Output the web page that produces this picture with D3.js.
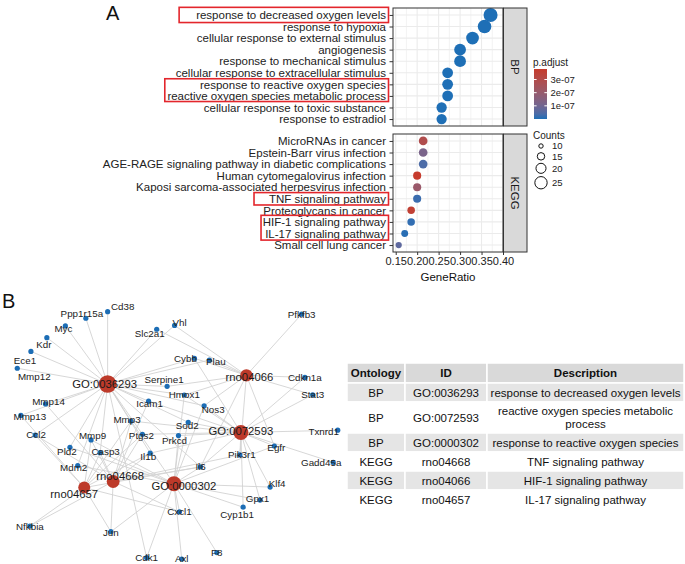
<!DOCTYPE html>
<html>
<head>
<meta charset="utf-8">
<script src="https://cdn.jsdelivr.net/npm/d3@7"></script>
<style>
  body { margin: 0; background: #fff; }
  text { font-family: "Liberation Sans", Arial, Helvetica, sans-serif; }
</style>
</head>
<body>
<svg id="fig" width="685" height="564"></svg>
<script>

// ---- data: panel A (enrichment dot plot) ----
var bpTerms = ["response to decreased oxygen levels", "response to hypoxia",
  "cellular response to external stimulus", "angiogenesis", "response to mechanical stimulus",
  "cellular response to extracellular stimulus", "response to reactive oxygen species",
  "reactive oxygen species metabolic process", "cellular response to toxic substance",
  "response to estradiol"];
var bpRatio = [0.371, 0.357, 0.329, 0.300, 0.300, 0.271, 0.271, 0.271, 0.257, 0.257];
var bpCount = [26, 25, 23, 21, 21, 19, 19, 19, 18, 18];
var bpPadj = [2.1e-13, 3.4e-13, 2.2e-12, 6.0e-11, 6.0e-11, 1.9e-10, 1.9e-10, 1.9e-10, 6.5e-10, 6.5e-10];

var keggTerms = ["MicroRNAs in cancer", "Epstein-Barr virus infection",
  "AGE-RAGE signaling pathway in diabetic complications", "Human cytomegalovirus infection",
  "Kaposi sarcoma-associated herpesvirus infection", "TNF signaling pathway",
  "Proteoglycans in cancer", "HIF-1 signaling pathway", "IL-17 signaling pathway",
  "Small cell lung cancer"];
var keggRatio = [0.214, 0.214, 0.214, 0.200, 0.200, 0.200, 0.186, 0.186, 0.171, 0.157];
var keggCount = [15, 15, 15, 14, 14, 14, 13, 13, 12, 11];
var keggPadj = [2.9e-07, 1.2e-07, 4.0e-08, 3.8e-07, 2.1e-07, 2.0e-08, 3.6e-07, 1.2e-08, 6.0e-09, 6.5e-08];

var ratioTicks = [0.15, 0.20, 0.25, 0.30, 0.35, 0.40];
var padjBreaks = [1e-07, 2e-07, 3e-07];
var countBreaks = [10, 15, 20, 25];

// terms framed in red
var boxedTerms = [["response to decreased oxygen levels"],
  ["response to reactive oxygen species", "reactive oxygen species metabolic process"],
  ["TNF signaling pathway"],
  ["HIF-1 signaling pathway", "IL-17 signaling pathway"]];

// ---- data: panel B (gene-term network) ----
var hubIds = ["GO:0036293", "rno04066", "GO:0072593", "rno04668", "rno04657", "GO:0000302"];
var hubMembers = [
  ["Ppp1r15a", "Cd38", "Myc", "Kdr", "Ece1", "Mmp12", "Mmp13", "Mmp14", "Slc2a1", "Vhl", "Cybb", "Plau",
   "Serpine1", "Hmox1", "Icam1", "Nos3", "Mmp3", "Ccl2", "Ptgs2", "Pld2", "Casp3", "Mdm2", "Il1b", "Sod2", "Il6", "Cdk1"],
  ["Vhl", "Slc2a1", "Pfkfb3", "Cybb", "Hmox1", "Serpine1", "Cdkn1a", "Stat3", "Nos3", "Egfr", "Il6", "Pik3r1", "Plau"],
  ["Cybb", "Hmox1", "Nos3", "Sod2", "Txnrd1", "Ptgs2", "Prkcd", "Egfr", "Pik3r1", "Gadd45a", "Il6", "Klf4",
   "Gpx1", "Cyp1b1", "Il1b", "Stat3", "Cdkn1a", "Icam1", "Mmp3"],
  ["Mmp3", "Mmp9", "Mmp14", "Ccl2", "Ptgs2", "Casp3", "Il1b", "Icam1", "Il6", "Jun", "Cxcl1", "Nfkbia", "Pik3r1"],
  ["Mmp3", "Mmp9", "Mmp13", "Ccl2", "Ptgs2", "Casp3", "Il1b", "Il6", "Jun", "Cxcl1", "Nfkbia"],
  ["Hmox1", "Nos3", "Sod2", "Mmp3", "Mmp9", "Casp3", "Pld2", "Mdm2", "Prkcd", "Egfr", "Il6", "Klf4",
   "Gpx1", "Cyp1b1", "Cxcl1", "Jun", "Cdk1", "Axl", "F8"]];

var geneNames = ["Ppp1r15a", "Cd38", "Myc", "Kdr", "Ece1", "Mmp12", "Slc2a1", "Vhl", "Pfkfb3", "Cybb",
  "Plau", "Serpine1", "Hmox1", "Cdkn1a", "Stat3", "Mmp14", "Icam1", "Nos3", "Mmp13", "Mmp3", "Sod2",
  "Txnrd1", "Ccl2", "Mmp9", "Ptgs2", "Prkcd", "Pld2", "Casp3", "Il1b", "Egfr", "Mdm2", "Pik3r1",
  "Gadd45a", "Il6", "Klf4", "Gpx1", "Nfkbia", "Cxcl1", "Cyp1b1", "Jun", "Cdk1", "Axl", "F8"];

// ---- table ----
var tableHead = ["Ontology", "ID", "Description"];
var tableOntology = ["BP", "BP", "BP", "KEGG", "KEGG", "KEGG"];
var tableId = ["GO:0036293", "GO:0072593", "GO:0000302", "rno04668", "rno04066", "rno04657"];
var tableDesc = ["response to decreased oxygen levels", "reactive oxygen species metabolic\nprocess",
  "response to reactive oxygen species", "TNF signaling pathway", "HIF-1 signaling pathway",
  "IL-17 signaling pathway"];

// ---- network layout (layout units 0-100, as from the layout step) ----
var hubLayoutX = [28.5, 71.2, 69.5, 30.2, 21.3, 48.9];
var hubLayoutY = [31.0, 27.6, 50.0, 69.2, 71.6, 70.1];
var geneLayoutX = [21.8, 28.5, 15.5, 9.8, 4.9, 0.7, 43.6, 49.1, 88.2, 55.2,
  59.8, 46.8, 52.1, 89.2, 91.6, 9.4, 41.1, 58.2, 1.8, 35.7, 53.3,
  99.3, 6.2, 23.4, 39.2, 50.3, 16.9, 26.2, 41.6, 79.8, 19.3, 69.2,
  97.9, 57.1, 78.5, 75.4, 4.6, 50.6, 70.2, 29.5, 40.5, 51.3, 62.1];
var geneLayoutY = [5.2, 2.6, 8.2, 12.8, 18.2, 24.8, 9.5, 8.0, 3.6, 20.9,
  21.6, 31.9, 35.3, 28.4, 35.2, 38.8, 37.7, 39.5, 43.3, 45.5, 46.0,
  49.1, 51.0, 52.9, 50.7, 51.2, 55.8, 57.9, 58.1, 55.3, 63.0, 58.8,
  61.7, 63.5, 71.4, 76.5, 86.7, 81.1, 79.3, 88.9, 99.1, 99.6, 97.1];
// label nudges in px (repel result)
var geneLabelDx = [-4, 15, -2, -3, -6, 17, -7, 5, 0, -9, 6.5, -3, 0, 0, 0, 3, 1, 9, 9, -4, -1,
  -14, 1, 1.5, -1, -4, -3, 5.5, -2, 2, -4, 2, -12, 0, 7, -2.5, 0, 0, -6, 0, 0, 0, 0];
var geneLabelDy = [-5, -5, 3, 7, 9, 8, 4, -3, 0, 0, 1, -7, 0, 0, 0, -2, 2, 4, 1, -1, 3,
  1, 0, -4, 1, 5.5, 4, -1, 3.5, 2, 2, 0, 0, 0, -4, -2, 0, 0, 7, 0.5, 0, 0, 0];
var hubLabelDx = [-3, 3, 0, 7, -10, 10];
var hubLabelDy = [0, 2, -1, -5, 6, 2];

// ---------------------------------------------------------------
var svg = d3.select('#fig');
var ink = '#222';

// panel letters
svg.append('text').attr('x', 106).attr('y', 20).attr('font-size', 20).attr('fill', '#111').text('A');
svg.append('text').attr('x', 2).attr('y', 308).attr('font-size', 20).attr('fill', '#111').text('B');

// ---- panel A ----
var x = d3.scaleLinear().domain([0.1437, 0.40]).range([393, 503]);
var size = d3.scaleSqrt().domain([10, 26]).range([2.8, 7]);
var allPadj = bpPadj.concat(keggPadj);
var color = d3.scaleLinear()
  .domain([d3.min(allPadj), d3.max(allPadj)])
  .range(['#1e6fb6', '#c63b2d'])
  .interpolate(d3.interpolateLab);

var facets = [
  {name: 'BP', terms: bpTerms, ratio: bpRatio, count: bpCount, padj: bpPadj, top: 8, bottom: 126},
  {name: 'KEGG', terms: keggTerms, ratio: keggRatio, count: keggCount, padj: keggPadj, top: 134, bottom: 252}
];
var minorTicks = d3.pairs(ratioTicks).map(function(p) { return (p[0] + p[1]) / 2; });
var yScales = {};

facets.forEach(function(f, fi) {
  var y = d3.scalePoint().domain(f.terms).range([f.top, f.bottom]).padding(0.6);
  yScales[f.name] = y;
  var g = svg.append('g');
  var x0 = x.range()[0], x1 = x.range()[1];

  g.append('rect').attr('x', x0).attr('y', f.top).attr('width', x1 - x0)
    .attr('height', f.bottom - f.top).attr('fill', '#fff');

  // grid
  g.selectAll('.minor').data(minorTicks).enter().append('line')
    .attr('x1', x).attr('x2', x).attr('y1', f.top).attr('y2', f.bottom)
    .attr('stroke', '#f0f0f0').attr('stroke-width', 0.8);
  g.selectAll('.major').data(ratioTicks).enter().append('line')
    .attr('x1', x).attr('x2', x).attr('y1', f.top).attr('y2', f.bottom)
    .attr('stroke', '#ebebeb').attr('stroke-width', 1.1);
  g.selectAll('.hgrid').data(f.terms).enter().append('line')
    .attr('x1', x0).attr('x2', x1).attr('y1', y).attr('y2', y)
    .attr('stroke', '#ebebeb').attr('stroke-width', 1.1);

  // dots
  g.selectAll('.dot').data(f.terms).enter().append('circle')
    .attr('cx', function(d, i) { return x(f.ratio[i]); })
    .attr('cy', function(d) { return y(d); })
    .attr('r', function(d, i) { return size(f.count[i]); })
    .attr('fill', function(d, i) { return color(f.padj[i]); });

  g.append('rect').attr('x', x0).attr('y', f.top).attr('width', x1 - x0)
    .attr('height', f.bottom - f.top).attr('fill', 'none').attr('stroke', '#333').attr('stroke-width', 1);

  // y axis
  var ya = g.append('g').attr('transform', 'translate(' + x0 + ',0)')
    .call(d3.axisLeft(y).tickSize(3.5).tickPadding(3.5));
  ya.select('.domain').remove();
  ya.selectAll('line').attr('stroke', '#333');
  ya.selectAll('text').attr('font-size', 11.5).attr('fill', ink).style('font-family', null);

  // strip
  g.append('rect').attr('x', x1 + 0.5).attr('y', f.top).attr('width', 23.5)
    .attr('height', f.bottom - f.top).attr('fill', '#d9d9d9').attr('stroke', '#333').attr('stroke-width', 1);
  g.append('text')
    .attr('transform', 'translate(' + (x1 + 12) + ',' + ((f.top + f.bottom) / 2) + ') rotate(90)')
    .attr('text-anchor', 'middle').attr('dy', '0.35em').attr('font-size', 11.5).attr('fill', '#1a1a1a')
    .text(f.name);

  if (fi === facets.length - 1) {
    var xa = g.append('g').attr('transform', 'translate(0,' + f.bottom + ')')
      .call(d3.axisBottom(x).tickValues(ratioTicks).tickFormat(d3.format('.2f')).tickSize(3).tickPadding(2.5));
    xa.select('.domain').remove();
    xa.selectAll('line').attr('stroke', '#333');
    xa.selectAll('text').attr('font-size', 11).attr('fill', ink).style('font-family', null);
    g.append('text').attr('x', (x0 + x1) / 2).attr('y', 281).attr('text-anchor', 'middle')
      .attr('font-size', 11.5).attr('fill', '#111').text('GeneRatio');
  }
});

// red frames around highlighted labels (hand-drawn in the original: different left margins)
var boxLeftPad = [17, 2.6, 15, 1.6];
var boxVPad = [7.6, 5.6, 6.2, 6.6];
boxedTerms.forEach(function(terms, bi) {
  var inBP = bpTerms.indexOf(terms[0]) >= 0;
  var y = inBP ? yScales.BP : yScales.KEGG;
  var minX = Infinity;
  svg.selectAll('.tick text').each(function(d) {
    if (terms.indexOf(d) >= 0) { minX = Math.min(minX, this.getBBox().x + x.range()[0]); }
  });
  var yTop = y(terms[0]) - boxVPad[bi], yBot = y(terms[terms.length - 1]) + boxVPad[bi];
  svg.append('rect').attr('x', minX - boxLeftPad[bi]).attr('y', yTop)
    .attr('width', 388.5 - (minX - boxLeftPad[bi])).attr('height', yBot - yTop)
    .attr('fill', 'none').attr('stroke', '#e3262c').attr('stroke-width', 1.6);
});

// legends
var lg = svg.append('g');
lg.append('text').attr('x', 533).attr('y', 66).attr('font-size', 10).attr('fill', ink).text('p.adjust');
var barTop = 69, barBot = 119, barX = 534, barW = 13;
var yBar = d3.scaleLinear().domain(color.domain()).range([barBot, barTop]);
var grad = svg.append('defs').append('linearGradient').attr('id', 'padjGrad')
  .attr('x1', 0).attr('y1', 1).attr('x2', 0).attr('y2', 0);
d3.range(0, 1.0001, 0.1).forEach(function(t) {
  var v = color.domain()[0] + t * (color.domain()[1] - color.domain()[0]);
  grad.append('stop').attr('offset', t).attr('stop-color', color(v));
});
lg.append('rect').attr('x', barX).attr('y', barTop).attr('width', barW).attr('height', barBot - barTop)
  .attr('fill', 'url(#padjGrad)');
padjBreaks.forEach(function(b) {
  var yy = yBar(b);
  lg.append('line').attr('x1', barX).attr('x2', barX + 2.6).attr('y1', yy).attr('y2', yy).attr('stroke', '#fff');
  lg.append('line').attr('x1', barX + barW - 2.6).attr('x2', barX + barW).attr('y1', yy).attr('y2', yy).attr('stroke', '#fff');
  lg.append('text').attr('x', barX + barW + 3.5).attr('y', yy).attr('dy', '0.35em')
    .attr('font-size', 9.5).attr('fill', ink).text(d3.format('.0e')(b).replace('e-7', 'e-07'));
});

lg.append('text').attr('x', 533).attr('y', 139).attr('font-size', 10).attr('fill', ink).text('Counts');
var keyY = 141;
countBreaks.forEach(function(c) {
  var h = Math.max(10, 2 * size(c) + 2);
  var cy = keyY + h / 2;
  lg.append('circle').attr('cx', 541).attr('cy', cy).attr('r', size(c) - 0.6)
    .attr('fill', 'none').attr('stroke', '#111').attr('stroke-width', 1);
  lg.append('text').attr('x', 552).attr('y', cy).attr('dy', '0.35em')
    .attr('font-size', 9.5).attr('fill', ink).text(c);
  keyY += h;
});

// ---- panel B: network ----
var nx = d3.scaleLinear().domain([0, 100]).range([15, 340]);
var ny = d3.scaleLinear().domain([0, 100]).range([305, 560]);

// hub size follows the term's gene count in panel A (matched through the table)
var termCount = {};
bpTerms.forEach(function(t, i) { termCount[t] = bpCount[i]; });
keggTerms.forEach(function(t, i) { termCount[t] = keggCount[i]; });
var hubR = d3.scaleSqrt().domain([0, 26]).range([0, 8.8]);
function hubCount(id) {
  var desc = tableDesc[tableId.indexOf(id)].replace('\n', ' ');
  return termCount[desc];
}

var net = svg.append('g');
hubIds.forEach(function(h, hi) {
  net.selectAll('.e' + hi).data(hubMembers[hi]).enter().append('line')
    .attr('x1', nx(hubLayoutX[hi])).attr('y1', ny(hubLayoutY[hi]))
    .attr('x2', function(g) { return nx(geneLayoutX[geneNames.indexOf(g)]); })
    .attr('y2', function(g) { return ny(geneLayoutY[geneNames.indexOf(g)]); })
    .attr('stroke', '#d3d3d3').attr('stroke-width', 0.9);
});

net.selectAll('.gene').data(geneNames).enter().append('circle')
  .attr('cx', function(d, i) { return nx(geneLayoutX[i]); })
  .attr('cy', function(d, i) { return ny(geneLayoutY[i]); })
  .attr('r', 2.6).attr('fill', '#1c6db5');

net.selectAll('.hub').data(hubIds).enter().append('circle')
  .attr('cx', function(d, i) { return nx(hubLayoutX[i]); })
  .attr('cy', function(d, i) { return ny(hubLayoutY[i]); })
  .attr('r', function(d) { return hubR(hubCount(d)); })
  .attr('fill', '#bd3a2a');

net.selectAll('.glab').data(geneNames).enter().append('text')
  .attr('x', function(d, i) { return nx(geneLayoutX[i]) + geneLabelDx[i]; })
  .attr('y', function(d, i) { return ny(geneLayoutY[i]) + geneLabelDy[i]; })
  .attr('dy', '0.35em').attr('text-anchor', 'middle')
  .attr('font-size', 9.8).attr('fill', ink).text(function(d) { return d; });

net.selectAll('.hlab').data(hubIds).enter().append('text')
  .attr('x', function(d, i) { return nx(hubLayoutX[i]) + hubLabelDx[i]; })
  .attr('y', function(d, i) { return ny(hubLayoutY[i]) + hubLabelDy[i]; })
  .attr('dy', '0.35em').attr('text-anchor', 'middle')
  .attr('font-size', 11.3).attr('fill', '#1a1a1a').text(function(d) { return d; });

// ---- table ----
var colEdges = [347, 405, 487, 684];
var rowHeights = [20].concat(tableDesc.map(function(d) { return d.indexOf('\n') >= 0 ? 31 : 19; }));
var rowTops = [363];
rowHeights.forEach(function(h, i) { rowTops.push(rowTops[i] + h); });

var tbl = svg.append('g');
var rows = [tableHead].concat(tableId.map(function(id, i) { return [tableOntology[i], id, tableDesc[i]]; }));
rows.forEach(function(r, ri) {
  var fill = ri === 0 ? '#d9d9d9' : (ri % 2 === 1 ? '#e5e5e5' : '#fff');
  r.forEach(function(cell, ci) {
    var cx0 = colEdges[ci], cx1 = colEdges[ci + 1];
    tbl.append('rect').attr('x', cx0).attr('y', rowTops[ri]).attr('width', cx1 - cx0)
      .attr('height', rowHeights[ri]).attr('fill', fill).attr('stroke', '#fff').attr('stroke-width', 1.5);
    var lines = cell.split('\n');
    var mid = rowTops[ri] + rowHeights[ri] / 2;
    var lh = 13.5;
    lines.forEach(function(l, li) {
      tbl.append('text').attr('x', (cx0 + cx1) / 2)
        .attr('y', mid + (li - (lines.length - 1) / 2) * lh).attr('dy', '0.35em')
        .attr('text-anchor', 'middle').attr('font-size', 11.5)
        .attr('font-weight', ri === 0 ? 'bold' : 'normal')
        .attr('fill', '#111').text(l);
    });
  });
});

</script>
</body>
</html>
